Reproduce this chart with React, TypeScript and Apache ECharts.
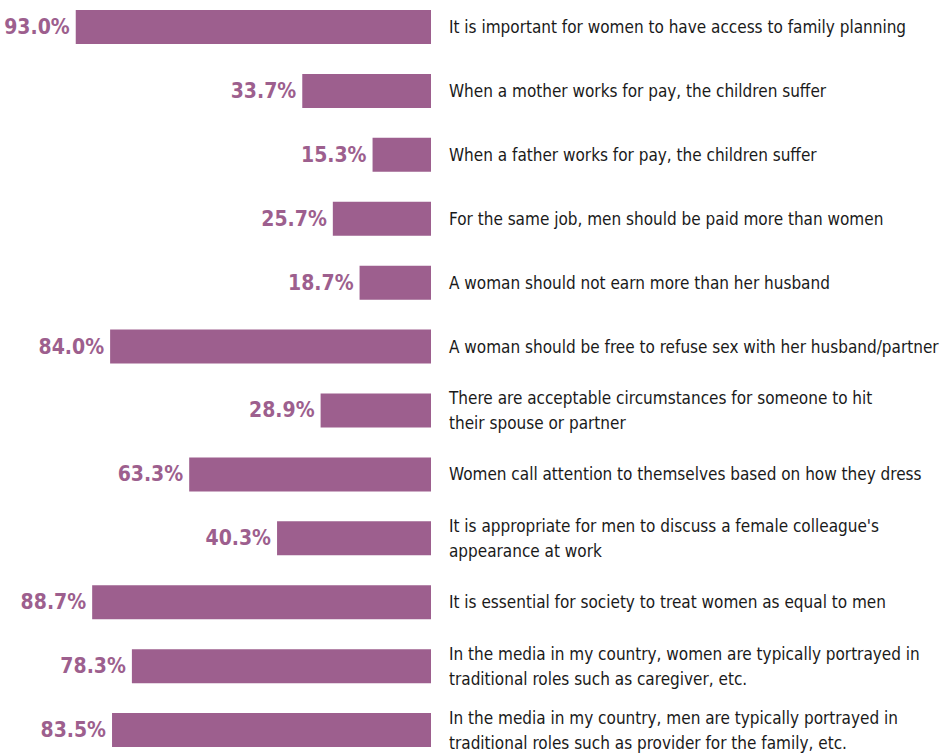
import React, { useEffect, useRef } from "react";
import * as echarts from "echarts";

const categories = [
  "It is important for women to have access to family planning",
  "When a mother works for pay, the children suffer",
  "When a father works for pay, the children suffer",
  "For the same job, men should be paid more than women",
  "A woman should not earn more than her husband",
  "A woman should be free to refuse sex with her husband/partner",
  "There are acceptable circumstances for someone to hit\ntheir spouse or partner",
  "Women call attention to themselves based on how they dress",
  "It is appropriate for men to discuss a female colleague's\nappearance at work",
  "It is essential for society to treat women as equal to men",
  "In the media in my country, women are typically portrayed in\ntraditional roles such as caregiver, etc.",
  "In the media in my country, men are typically portrayed in\ntraditional roles such as provider for the family, etc.",
];

const values = [93.0, 33.7, 15.3, 25.7, 18.7, 84.0, 28.9, 63.3, 40.3, 88.7, 78.3, 83.5];

const PURPLE = "#9d5f8e";
const FONT = "'DejaVu Sans Condensed', 'Liberation Sans Narrow', sans-serif";

export default function App() {
  const ref = useRef<HTMLDivElement>(null);
  useEffect(() => {
    if (!ref.current) return;
    const chart = echarts.init(ref.current, undefined, { renderer: "svg" });
    chart.setOption({
      animation: false,
      grid: {
        left: 49,
        right: 509,
        top: -5,
        bottom: -7,
        containLabel: false,
        outerBoundsMode: "none",
      },
      xAxis: {
        type: "value",
        min: 0,
        max: 100,
        inverse: true,
        show: false,
      },
      yAxis: {
        type: "category",
        data: categories,
        inverse: true,
        position: "right",
        axisLine: { show: false },
        axisTick: { show: false },
        splitLine: { show: false },
        axisLabel: {
          align: "left",
          margin: 18,
          color: "#1a1a1a",
          fontFamily: FONT,
          fontSize: 17,
          lineHeight: 25,
        },
      },
      series: [
        {
          type: "bar",
          data: values,
          barWidth: 34,
          itemStyle: { color: PURPLE },
          label: {
            show: true,
            position: "left",
            distance: 6,
            color: PURPLE,
            fontFamily: FONT,
            fontWeight: "bold",
            fontSize: 21,
            formatter: (p: any) => `${Number(p.value).toFixed(1)}%`,
          },
        },
      ],
    });
    return () => chart.dispose();
  }, []);
  return (
    <div
      ref={ref}
      style={{ position: "fixed", left: 0, top: 0, width: 940, height: 755, background: "#fff" }}
    />
  );
}
